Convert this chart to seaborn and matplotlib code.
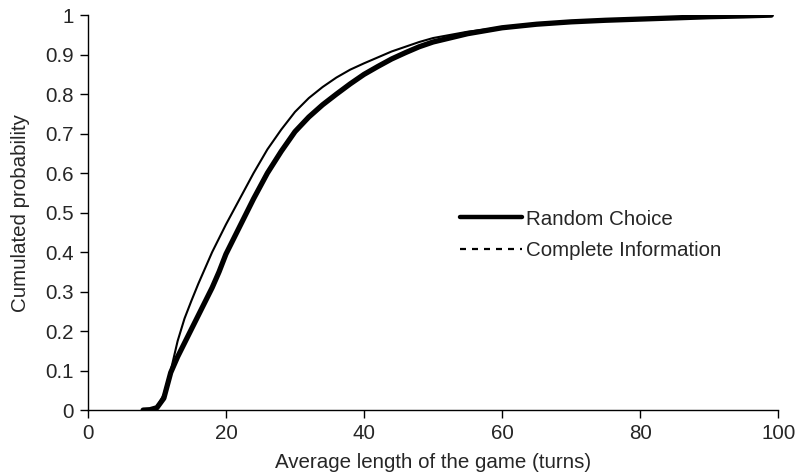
import matplotlib
matplotlib.use("Agg")
import matplotlib.pyplot as plt
import seaborn as sns
import pandas as pd
from matplotlib.lines import Line2D

x_turns = [8, 9, 10, 11, 12, 13, 14, 15, 16, 17, 18, 19, 20, 22, 24, 26, 28, 30, 32, 34,
           36, 38, 40, 42, 44, 46, 48, 50, 55, 60, 65, 70, 75, 80, 85, 90, 95, 99]
random_choice = [0.0, 0.001, 0.006, 0.03, 0.095, 0.135, 0.17, 0.205, 0.24, 0.275, 0.31,
                 0.35, 0.395, 0.465, 0.535, 0.6, 0.655, 0.705, 0.742, 0.773, 0.8, 0.826,
                 0.85, 0.87, 0.889, 0.905, 0.92, 0.932, 0.953, 0.968, 0.977, 0.983, 0.987,
                 0.99, 0.993, 0.996, 0.998, 1.0]
complete_info = [0.0, 0.001, 0.007, 0.04, 0.1, 0.175, 0.232, 0.277, 0.32, 0.36, 0.4,
                 0.435, 0.47, 0.535, 0.6, 0.66, 0.71, 0.755, 0.79, 0.818, 0.842, 0.862,
                 0.878, 0.893, 0.908, 0.92, 0.932, 0.942, 0.958, 0.969, 0.977, 0.983,
                 0.987, 0.99, 0.993, 0.996, 0.998, 1.0]
series_names = ["Random Choice", "Complete Information"]

df = pd.DataFrame({"x": x_turns, "Random Choice": random_choice,
                   "Complete Information": complete_info})

sns.set_style("ticks")
plt.rcParams['font.family'] = ['Liberation Sans', 'DejaVu Sans']
FS = 14.8

fig = plt.figure(figsize=(7.99, 4.73), dpi=100)
ax = fig.add_axes([0.110, 0.133, 0.864, 0.835])

sns.lineplot(data=df, x="x", y="Random Choice", ax=ax, color="black", linewidth=3.8)
sns.lineplot(data=df, x="x", y="Complete Information", ax=ax, color="black", linewidth=1.5)

ax.set_xlim(0, 100)
ax.set_ylim(0, 1)
ax.set_xticks([0, 20, 40, 60, 80, 100])
ax.set_yticks([i / 10 for i in range(11)])
ax.set_yticklabels(["0"] + [f"{i/10:g}" for i in range(1, 10)] + ["1"])
ax.set_xlabel("Average length of the game (turns)", fontsize=FS, labelpad=7)
ax.set_ylabel("Cumulated probability", fontsize=FS, labelpad=11)
ax.tick_params(labelsize=FS, direction="out", length=6, width=1, color="black", pad=4)
for s in ["top", "right"]:
    ax.spines[s].set_visible(False)
for s in ["left", "bottom"]:
    ax.spines[s].set_color("black")
    ax.spines[s].set_linewidth(1)

handles = [Line2D([0], [0], color="black", linewidth=3.2),
           Line2D([0], [0], color="black", linewidth=1.6, linestyle=(0, (2.7, 2.7)))]
ax.legend(handles, series_names, loc="center left", bbox_to_anchor=(0.539, 0.444),
          frameon=False, fontsize=FS, handlelength=3.0, handletextpad=0.2,
          labelspacing=0.6, borderpad=0, borderaxespad=0)

fig.savefig("out.png", dpi=100)
